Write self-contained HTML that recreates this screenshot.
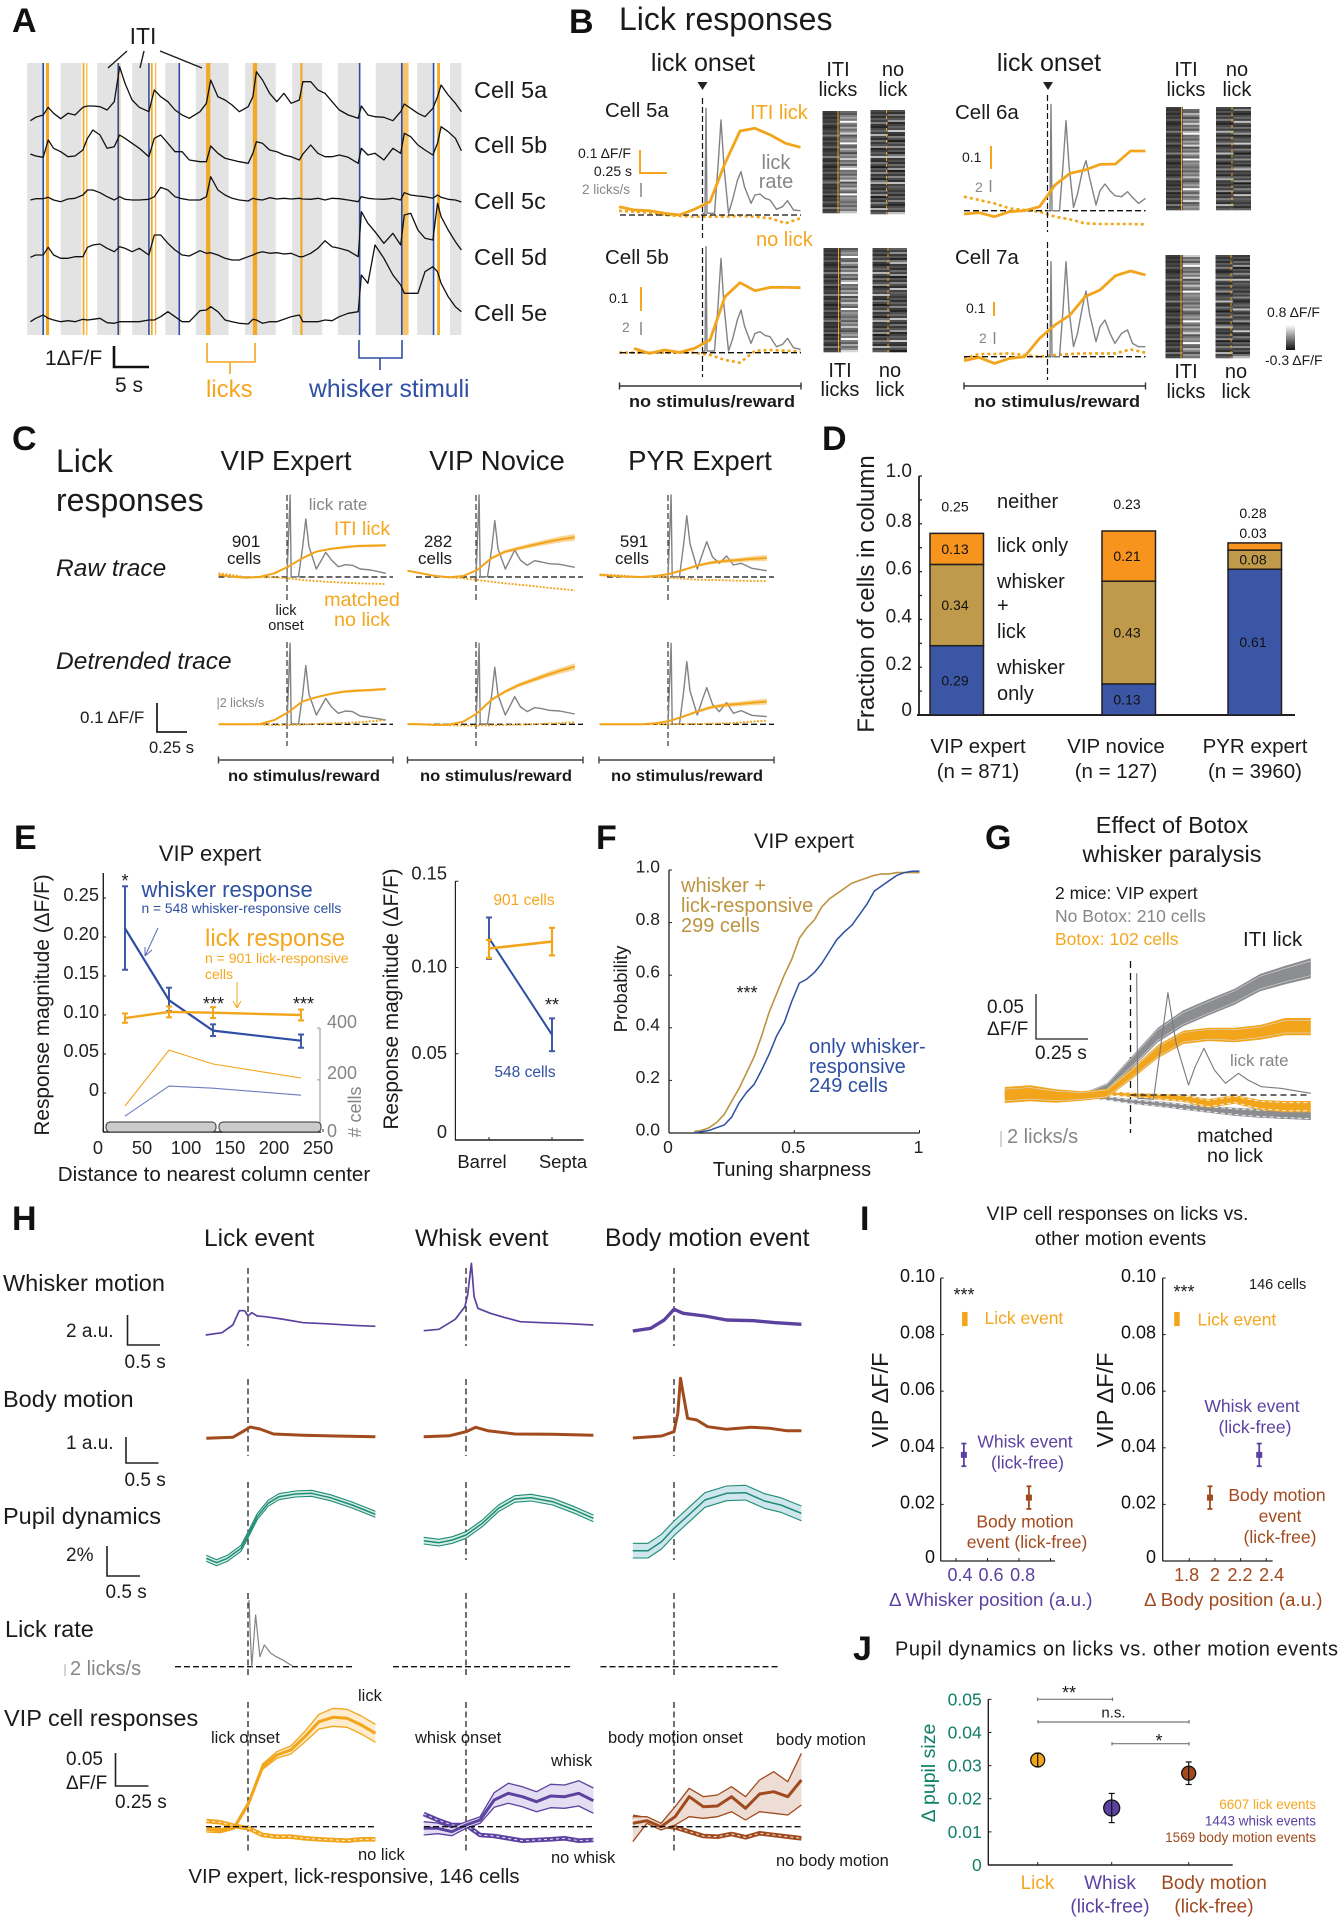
<!DOCTYPE html>
<html lang="en">
<head>
<meta charset="utf-8">
<title>Lick responses figure</title>
<style>
html,body{margin:0;padding:0;background:#fff;}
svg{display:block;font-family:"Liberation Sans",Arial,sans-serif;fill:#1c1a1b;}
.m{text-anchor:middle}.e{text-anchor:end}.b{font-weight:bold}.i{font-style:italic}
.o{fill:#f5a61e}.bl{fill:#2e4fa2}.g{fill:#858688}.t{fill:#bd9340}.p{fill:#5b42a0}.r{fill:#a04a1e}.te{fill:#107f68}
.pl{font-weight:bold;font-size:34px;fill:#111}
</style>
</head>
<body>
<svg id="figure" xmlns="http://www.w3.org/2000/svg" width="1342" height="1920" viewBox="0 0 1342 1920">
<rect x="0" y="0" width="1342" height="1920" fill="#fff"/>

<g>
<g id="a-marks"></g>
<text class="pl" x="12" y="32">A</text>
<text class="m" x="143" y="44" font-size="23">ITI</text>
<path d="M108 68L127 51M140 68L144 51M160 51L202 68" fill="none" stroke="#1c1a1b" stroke-width="1.4"/>
<text x="474" y="98" font-size="23.5">Cell 5a</text>
<text x="474" y="153" font-size="23.5">Cell 5b</text>
<text x="474" y="209" font-size="23.5">Cell 5c</text>
<text x="474" y="265" font-size="23.5">Cell 5d</text>
<text x="474" y="321" font-size="23.5">Cell 5e</text>
<text x="45" y="365" font-size="21">1ΔF/F</text>
<path d="M114 346V367H149" fill="none" stroke="#111" stroke-width="2.6"/>
<text x="115" y="392" font-size="21">5 s</text>
<path d="M207 343V362H255V343M230 362V374" fill="none" stroke="#f5a61e" stroke-width="1.6"/>
<text class="o" x="206" y="397" font-size="24">licks</text>
<path d="M359 340V358H402V340M380 358V370" fill="none" stroke="#2e4fa2" stroke-width="1.6"/>
<text class="bl" x="309" y="397" font-size="24.7">whisker stimuli</text>
</g>

<g>
<g id="b-marks"></g>
<text class="pl" x="569" y="33">B</text>
<text x="619" y="30" font-size="32">Lick responses</text>
<text class="m" x="703" y="71" font-size="25">lick onset</text>
<text class="m" x="1049" y="71" font-size="25">lick onset</text>
<path d="M697.5 82H707.5L702.5 90Z" fill="#222"/>
<path d="M1043 82H1053L1048 90Z" fill="#222"/>
<text class="m" x="838" y="76" font-size="20">ITI</text>
<text class="m" x="838" y="96" font-size="20">licks</text>
<text class="m" x="893" y="76" font-size="20">no</text>
<text class="m" x="893" y="96" font-size="20">lick</text>
<text class="m" x="1186" y="76" font-size="20">ITI</text>
<text class="m" x="1186" y="96" font-size="20">licks</text>
<text class="m" x="1237" y="76" font-size="20">no</text>
<text class="m" x="1237" y="96" font-size="20">lick</text>
<text class="m" x="840" y="377" font-size="20">ITI</text>
<text class="m" x="840" y="396" font-size="20">licks</text>
<text class="m" x="890" y="377" font-size="20">no</text>
<text class="m" x="890" y="396" font-size="20">lick</text>
<text class="m" x="1186" y="378" font-size="20">ITI</text>
<text class="m" x="1186" y="398" font-size="20">licks</text>
<text class="m" x="1236" y="378" font-size="20">no</text>
<text class="m" x="1236" y="398" font-size="20">lick</text>
<text x="605" y="117" font-size="20.5">Cell 5a</text>
<text x="605" y="264" font-size="20.5">Cell 5b</text>
<text x="955" y="119" font-size="20.5">Cell 6a</text>
<text x="955" y="264" font-size="20.5">Cell 7a</text>
<text class="o" x="750" y="119" font-size="20">ITI lick</text>
<text class="g m" x="776" y="169" font-size="20">lick</text>
<text class="g m" x="776" y="188" font-size="20">rate</text>
<text class="o" x="756" y="246" font-size="20">no lick</text>
<text x="578" y="158" font-size="14">0.1 ΔF/F</text>
<text class="e" x="632" y="176" font-size="14">0.25 s</text>
<text class="g" x="582" y="194" font-size="13.5">2 licks/s</text>
<path d="M640 150V173H667" fill="none" stroke="#f5a61e" stroke-width="2"/>
<path d="M641 183V197" stroke="#858688" stroke-width="1.5"/>
<text x="609" y="303" font-size="14">0.1</text>
<text class="g" x="622" y="332" font-size="14">2</text>
<path d="M641 287V311" stroke="#f5a61e" stroke-width="2"/>
<path d="M641 322V335" stroke="#858688" stroke-width="1.5"/>
<text x="962" y="162" font-size="14">0.1</text>
<text class="g" x="975" y="192" font-size="14">2</text>
<path d="M991 146V169" stroke="#f5a61e" stroke-width="2"/>
<path d="M990.5 180V192" stroke="#858688" stroke-width="1.5"/>
<text x="966" y="313" font-size="14">0.1</text>
<text class="g" x="979" y="343" font-size="14">2</text>
<path d="M994 302V316" stroke="#f5a61e" stroke-width="2"/>
<path d="M994.5 332V344" stroke="#858688" stroke-width="1.5"/>
<path d="M619.5 382.5V389.5M619.5 386H801M801 382.5V389.5M964 382.5V389.5M964 386H1145.5M1145.5 382.5V389.5" fill="none" stroke="#333" stroke-width="1.4"/>
<text class="b m" x="712" y="407" font-size="16.5" textLength="166" lengthAdjust="spacingAndGlyphs">no stimulus/reward</text>
<text class="b m" x="1057" y="407" font-size="16.5" textLength="166" lengthAdjust="spacingAndGlyphs">no stimulus/reward</text>
<defs><linearGradient id="cbar" x1="0" y1="0" x2="0" y2="1"><stop offset="0" stop-color="#fff"/><stop offset="1" stop-color="#111"/></linearGradient></defs>
<rect x="1286" y="325" width="9" height="25" fill="url(#cbar)"/>
<text x="1267" y="317" font-size="14">0.8 ΔF/F</text>
<text x="1265" y="365" font-size="14">-0.3 ΔF/F</text>
</g>

<g>
<g id="c-marks"></g>
<text class="pl" x="12" y="450">C</text>
<text x="56" y="472" font-size="32">Lick</text>
<text x="56" y="511" font-size="32">responses</text>
<text class="m" x="286" y="470" font-size="27.5">VIP Expert</text>
<text class="m" x="497" y="470" font-size="27.5">VIP Novice</text>
<text class="m" x="700" y="470" font-size="27.5">PYR Expert</text>
<text class="i" x="56" y="576" font-size="24.5">Raw trace</text>
<text class="i" x="56" y="669" font-size="24.5">Detrended trace</text>
<text class="m" x="246" y="547" font-size="17">901</text>
<text class="m" x="244" y="564" font-size="17">cells</text>
<text class="m" x="438" y="547" font-size="17">282</text>
<text class="m" x="435" y="564" font-size="17">cells</text>
<text class="m" x="634" y="547" font-size="17">591</text>
<text class="m" x="632" y="564" font-size="17">cells</text>
<text class="g m" x="338" y="510" font-size="17">lick rate</text>
<text class="o m" x="362" y="535" font-size="19.5">ITI lick</text>
<text class="o m" x="362" y="606" font-size="19.8">matched</text>
<text class="o m" x="362" y="626" font-size="19.8">no lick</text>
<text class="m" x="286" y="615" font-size="14.5">lick</text>
<text class="m" x="286" y="630" font-size="14.5">onset</text>
<text class="g" x="216.500" y="707" font-size="12.5">|2 licks/s</text>
<text x="80" y="723" font-size="17">0.1 ΔF/F</text>
<path d="M157 703V732H187" fill="none" stroke="#222" stroke-width="1.8"/>
<text x="149" y="753" font-size="16.5">0.25 s</text>
<path d="M218.500 756.500V763.500M218.500 760H393M393 756.500V763.500M407.500 756.500V763.500M407.500 760H583M583 756.500V763.500M599 756.500V763.500M599 760H774M774 756.500V763.500" fill="none" stroke="#444" stroke-width="1.4"/>
<text class="b m" x="304" y="781" font-size="16" textLength="152" lengthAdjust="spacingAndGlyphs">no stimulus/reward</text>
<text class="b m" x="496" y="781" font-size="16" textLength="152" lengthAdjust="spacingAndGlyphs">no stimulus/reward</text>
<text class="b m" x="687" y="781" font-size="16" textLength="152" lengthAdjust="spacingAndGlyphs">no stimulus/reward</text>
</g>

<g>
<g id="d-marks"></g>
<text class="pl" x="822" y="450">D</text>
<text class="m" x="874" y="594" font-size="24" transform="rotate(-90 874 594)">Fraction of cells in column</text>
<text x="997" y="508" font-size="20">neither</text>
<text x="997" y="552" font-size="20">lick only</text>
<text x="997" y="588" font-size="20">whisker</text>
<text x="997" y="612" font-size="20">+</text>
<text x="997" y="638" font-size="20">lick</text>
<text x="997" y="674" font-size="20">whisker</text>
<text x="997" y="700" font-size="20">only</text>
<text class="m" x="978" y="753" font-size="20.500">VIP expert</text>
<text class="m" x="978" y="778" font-size="20.500">(n = 871)</text>
<text class="m" x="1116" y="753" font-size="20.500">VIP novice</text>
<text class="m" x="1116" y="778" font-size="20.500">(n = 127)</text>
<text class="m" x="1255" y="753" font-size="20.500">PYR expert</text>
<text class="m" x="1255" y="778" font-size="20.500">(n = 3960)</text>
</g>

<g>
<g id="e-marks"></g>
<text class="pl" x="14" y="849">E</text>
<text class="m" x="210" y="861" font-size="22">VIP expert</text>
<text class="m" x="49" y="1005" font-size="20.800" transform="rotate(-90 49 1005)">Response magnitude (ΔF/F)</text>
<text class="m" x="214" y="1181" font-size="20.600">Distance to nearest column center</text>
<text class="bl" x="141.500" y="897" font-size="22">whisker response</text>
<text class="bl" x="141.500" y="913" font-size="13.800">n = 548 whisker-responsive cells</text>
<text class="o" x="205" y="946" font-size="24">lick response</text>
<text class="o" x="205" y="963" font-size="14">n = 901 lick-responsive</text>
<text class="o" x="205" y="979" font-size="14">cells</text>
<path d="M158 928L145 956M145 956L145 947M145 956L152 950" fill="none" stroke="#5b6db5" stroke-width="1"/>
<path d="M237 982V1008M237 1008L233 1001M237 1008L241 1001" fill="none" stroke="#f5a61e" stroke-width="1"/>
<text class="m" x="125" y="887" font-size="18">*</text>
<text class="m" x="213.500" y="1010" font-size="18">***</text>
<text class="m" x="303.500" y="1010" font-size="18">***</text>
<text class="g" x="327" y="1028" font-size="18">400</text>
<text class="g" x="327" y="1079" font-size="18">200</text>
<text class="g" x="327" y="1137" font-size="18">0</text>
<text class="g m" x="361" y="1112" font-size="18" transform="rotate(-90 361 1112)"># cells</text>
<text class="m" x="398" y="999" font-size="20.800" transform="rotate(-90 398 999)">Response magnitude (ΔF/F)</text>
<text class="o m" x="524" y="905" font-size="15.500">901 cells</text>
<text class="bl m" x="525" y="1077" font-size="15.500">548 cells</text>
<text class="m" x="552" y="1011" font-size="18">**</text>
<text class="m" x="482" y="1168" font-size="18.500">Barrel</text>
<text class="m" x="563" y="1168" font-size="18.500">Septa</text>
</g>

<g>
<g id="f-marks"></g>
<text class="pl" x="596" y="849">F</text>
<text class="m" x="804" y="848" font-size="21.500">VIP expert</text>
<text class="m" x="627" y="989" font-size="18.600" transform="rotate(-90 627 989)">Probability</text>
<text class="m" x="792" y="1176" font-size="20">Tuning sharpness</text>
<text class="t" x="681" y="892" font-size="20">whisker +</text>
<text class="t" x="681" y="912" font-size="20">lick-responsive</text>
<text class="t" x="681" y="932" font-size="20">299 cells</text>
<text class="bl" x="809" y="1053" font-size="20">only whisker-</text>
<text class="bl" x="809" y="1073" font-size="20">responsive</text>
<text class="bl" x="809" y="1092" font-size="20">249 cells</text>
<text class="m" x="747" y="999" font-size="18">***</text>
</g>

<g>
<g id="g-marks"></g>
<text class="pl" x="985" y="849">G</text>
<text class="m" x="1172" y="833" font-size="23.500">Effect of Botox</text>
<text class="m" x="1172" y="862" font-size="23.500">whisker paralysis</text>
<text x="1055" y="899" font-size="17.500">2 mice: VIP expert</text>
<text class="g" x="1055" y="922" font-size="17.500">No Botox: 210 cells</text>
<text class="o" x="1055" y="945" font-size="17.500">Botox: 102 cells</text>
<text x="1243" y="946" font-size="20.500">ITI lick</text>
<text x="987" y="1013" font-size="19">0.05</text>
<text x="987" y="1035" font-size="19">ΔF/F</text>
<path d="M1036 994V1039H1088" fill="none" stroke="#222" stroke-width="1.3"/>
<text x="1035" y="1059" font-size="19">0.25 s</text>
<text class="g" x="1230" y="1066" font-size="17">lick rate</text>
<path d="M1001 1131V1147" stroke="#aaa" stroke-width="1"/>
<text class="g" x="1007" y="1143" font-size="20">2 licks/s</text>
<text class="m" x="1235" y="1142" font-size="19.800">matched</text>
<text class="m" x="1235" y="1162" font-size="19.800">no lick</text>
</g>

<g>
<g id="h-marks"></g>
<text class="pl" x="12" y="1230">H</text>
<text x="204" y="1246" font-size="24.500">Lick event</text>
<text x="415" y="1246" font-size="24.500">Whisk event</text>
<text x="605" y="1246" font-size="24.700">Body motion event</text>
<text x="3" y="1291" font-size="23.500">Whisker motion</text>
<text x="3" y="1407" font-size="23.500">Body motion</text>
<text x="3" y="1524" font-size="23.500">Pupil dynamics</text>
<text x="5" y="1637" font-size="23.500">Lick rate</text>
<text x="4" y="1726" font-size="23.500">VIP cell responses</text>
<text x="66" y="1337" font-size="19">2 a.u.</text>
<path d="M127.500 1315V1345H160" fill="none" stroke="#222" stroke-width="1.6"/>
<text x="124.500" y="1368" font-size="19">0.5 s</text>
<text x="66" y="1449" font-size="19">1 a.u.</text>
<path d="M126 1437V1463H158.500" fill="none" stroke="#222" stroke-width="1.6"/>
<text x="124.500" y="1486" font-size="19">0.5 s</text>
<text x="66" y="1561" font-size="19">2%</text>
<path d="M107 1546V1576H140" fill="none" stroke="#222" stroke-width="1.6"/>
<text x="105.500" y="1598" font-size="19">0.5 s</text>
<path d="M65 1664V1676" stroke="#aaa" stroke-width="1"/>
<text class="g" x="70" y="1675" font-size="20">2 licks/s</text>
<text x="66" y="1765" font-size="19">0.05</text>
<text x="66" y="1789" font-size="19">ΔF/F</text>
<path d="M115.500 1753V1786H148.500" fill="none" stroke="#222" stroke-width="1.6"/>
<text x="115" y="1808" font-size="19">0.25 s</text>
<text x="358" y="1701" font-size="16.500">lick</text>
<text x="211" y="1743" font-size="16.500">lick onset</text>
<text x="415" y="1743" font-size="16.500">whisk onset</text>
<text x="608" y="1743" font-size="16.500">body motion onset</text>
<text x="551" y="1766" font-size="16.500">whisk</text>
<text x="776" y="1745" font-size="16.500">body motion</text>
<text x="358" y="1860" font-size="16.500">no lick</text>
<text x="551" y="1863" font-size="16.500">no whisk</text>
<text x="776" y="1866" font-size="16.500">no body motion</text>
<text x="188.500" y="1883" font-size="20.300">VIP expert, lick-responsive, 146 cells</text>
</g>

<g>
<g id="i-marks"></g>
<text class="pl" x="860" y="1230">I</text>
<text class="m" x="1117.500" y="1220" font-size="19.500">VIP cell responses on licks vs.</text>
<text class="m" x="1120.500" y="1245" font-size="19.500">other motion events</text>
<text class="m" x="888" y="1400" font-size="23.500" transform="rotate(-90 888 1400)">VIP ΔF/F</text>
<text class="m" x="1113" y="1400" font-size="23.500" transform="rotate(-90 1113 1400)">VIP ΔF/F</text>
<text class="m" x="964" y="1301" font-size="18">***</text>
<text class="m" x="1184" y="1298" font-size="18">***</text>
<text x="1249" y="1289" font-size="14.500">146 cells</text>
<text class="o" x="984.500" y="1324" font-size="17.500">Lick event</text>
<text class="p m" x="1025" y="1447.500" font-size="17.500">Whisk event</text>
<text class="p m" x="1027.500" y="1468.500" font-size="17.500">(lick-free)</text>
<text class="r m" x="1025" y="1527.500" font-size="17.500">Body motion</text>
<text class="r m" x="1027" y="1548" font-size="17.500">event (lick-free)</text>
<text class="o" x="1197.500" y="1325.500" font-size="17.500">Lick event</text>
<text class="p m" x="1252" y="1412" font-size="17.500">Whisk event</text>
<text class="p m" x="1255" y="1433" font-size="17.500">(lick-free)</text>
<text class="r m" x="1277" y="1501" font-size="17.500">Body motion</text>
<text class="r m" x="1280" y="1522" font-size="17.500">event</text>
<text class="r m" x="1280" y="1543" font-size="17.500">(lick-free)</text>
<text class="p" x="889" y="1606" font-size="18.800">Δ Whisker position (a.u.)</text>
<text class="r" x="1144" y="1606" font-size="18.800">Δ Body position (a.u.)</text>
</g>

<g>
<g id="j-marks"></g>
<text class="pl" x="853" y="1660">J</text>
<text x="895" y="1655.500" font-size="20" textLength="443" lengthAdjust="spacing">Pupil dynamics on licks vs. other motion events</text>
<text class="te m" x="935" y="1773" font-size="19.500" transform="rotate(-90 935 1773)">Δ pupil size</text>
<path d="M1037.500 1697.500V1701M1037.500 1699.300H1112.500M1112.500 1697.500V1701M1038 1720V1723.500M1038 1722H1189M1189 1720V1723.500M1112 1742V1745.500M1112 1743.700H1189M1189 1742V1745.500" fill="none" stroke="#777" stroke-width="1.2"/>
<text class="m" x="1069" y="1699" font-size="18">**</text>
<text class="m" x="1113.500" y="1717.500" font-size="15">n.s.</text>
<text class="m" x="1159" y="1747" font-size="18">*</text>
<text class="o e" x="1316" y="1809" font-size="13.500">6607 lick events</text>
<text class="p e" x="1316" y="1825.500" font-size="13.500">1443 whisk events</text>
<text class="r e" x="1316" y="1842" font-size="13.500">1569 body motion events</text>
<text class="o m" x="1037.500" y="1889" font-size="19">Lick</text>
<text class="p m" x="1110" y="1889" font-size="19">Whisk</text>
<text class="p m" x="1110" y="1912.500" font-size="19">(lick-free)</text>
<text class="r m" x="1214" y="1889" font-size="19">Body motion</text>
<text class="r m" x="1214" y="1912.500" font-size="19">(lick-free)</text>
</g>
</svg>

<script>
/* ---------- Panel A data (frames; response units, 60 = 1 dF/F) ---------- */
const aFrames=[85,100,121,135,150,170,190,210,232,245,260,280,300,320,335,350,370,390,417,432,450,470,490,510,530,560,578,590,610,630,650,670,695,708,718,735,755,775,795,815,838,848,870,890,910,930,950,975,1003,1012,1030,1050,1075,1100,1122,1132,1150,1170,1190,1212,1225,1235,1255,1275,1292];
const aCell5a=[-2,8,15,38,20,4,20,15,38,42,42,40,30,55,160,110,60,38,25,90,70,55,30,15,5,25,50,120,70,60,45,25,40,70,145,120,80,55,80,50,60,115,115,90,80,55,30,15,5,42,15,10,8,-2,25,48,35,20,10,35,70,105,75,50,25];
const aCell5b=[8,2,-2,50,25,15,0,2,20,55,80,65,25,30,65,55,40,25,0,55,65,40,15,15,-10,-15,-15,32,10,-5,-10,-15,-20,10,45,40,20,15,5,0,-10,8,35,10,0,0,5,-2,-20,25,5,10,-10,25,10,70,60,35,20,5,40,90,75,55,18];
const aCell5c=[0,4,4,8,0,-5,3,5,15,30,30,22,10,0,10,2,0,0,2,10,38,30,10,4,0,0,10,70,30,15,5,0,-3,5,2,0,7,3,5,3,5,3,2,5,0,5,4,0,-5,10,5,3,2,5,0,22,15,12,10,5,15,8,2,0,-6];
const aCell5d=[-2,5,5,28,5,-5,-5,0,0,28,35,38,25,15,30,25,15,25,5,65,65,40,20,5,2,18,10,12,5,-5,-10,-10,0,5,10,15,10,12,8,10,0,0,10,25,48,30,25,18,0,135,100,75,40,70,35,125,130,80,55,50,160,120,80,45,20];
const aCell5e=[-5,5,15,5,0,-5,-2,-5,2,0,2,5,-8,-10,-5,-5,-5,-5,0,0,10,25,10,-5,-5,28,30,40,25,0,-5,-10,-12,2,0,-10,-5,-5,2,10,15,-5,-5,-5,0,-2,10,20,25,135,110,225,185,135,105,80,80,80,145,160,145,110,70,40,25];
const aBandStart=[76,170,272,370,463,548,686,818,946,1052,1168,1260];
const aBandEnd=[124,228,335,415,503,640,772,902,1007,1125,1215,1292];
const aWhiskerEvents=[121,331,417,502,1007,1125,1214];
const aLickEvents=[133,234,243,336,425,436,583,714,844,1135,1228];
const aLickDurations=[9,5,3,2,5,3,12,12,6,18,8];

/* ---------- Panel B data ---------- */
const bFrames=[-167,-137,-106,-76,-46,-16,15,45,75,105,136,166,196];
const b5aIti=[25,15,13,5,0,17,40,155,252,260,240,215,203];
const b5aNo=[13,10,7,0,-3,-5,-5,-5,-3,-5,-10,-25,-10];
const b5bIti=[13,-2,8,1,13,38,168,210,186,196,196,195];
const b5bNo=[0,0,0,0,0,0,-7,-22,-30,6,8,6,3];
const b6aIti=[-10,-6,-18,-3,0,12,77,112,122,139,140,179,179];
const b6aNo=[42,32,22,7,2,-3,-18,-26,-38,-40,-40,-40,-41];
const b7aIti=[-12,-2,-20,-5,0,55,95,125,180,200,243,257,245];
const b7aNo=[-5,8,8,10,5,0,5,8,10,10,10,22,12];
const bLickFrames=[0,5,7,9,24,31,37,43,52,60,70,77,84,97,105,115,125,135,148,160,170,182,196];
const b5aLick=[5,5,320,5,5,145,285,145,5,45,105,130,85,35,60,63,50,45,17,25,43,15,13];
const b5bLick=[5,5,318,5,5,140,283,140,5,40,100,128,80,28,58,63,52,48,18,25,43,15,10];
const b6aLick=[0,0,319,0,0,135,270,135,10,50,120,150,100,17,60,80,60,45,42,57,40,22,37];
const b7aLick=[0,0,285,0,0,140,285,140,30,70,150,197,130,45,90,110,70,40,70,80,40,30,30];
const bRasterLevels=[.3,.2,.35,.15,.4,.25,.6,.2,.1,.3,.45,.25,.9,.3,.15,.5,.2,.35,.7,.1,.25,.4,.3,.95,.2,.15,.55,.3,.05,.4,.25,.65,.2,.35,.1,.5,.85,.2,.3,.15,.45,.25,.7,.05,.35,.2,.6,.3,.15,.9,.25,.4];

/* ---------- Panel C data ---------- */
const cFrames=[-131,-104.3,-77.7,-51,-24.3,2.3,29,55.7,82.3,109,135.7,162.3,189];
const cLickFrames=[0,6,8,22,30,36,42,56,66,74,85,98,112,125,140,160,189];
const cRawVEIti=[6,1,-2,1,11,31,56,76,84,89,93,94,95];
const cRawVENo=[11,6,-1,-1,-1,-4,-9,-12,-15,-17,-19,-20,-21];
const cRawVNIti=[19,11,3,-1,3,21,56,76,86,96,105,113,119];
const cRawVNNo=[19,11,3,-1,-4,-9,-14,-19,-23,-27,-32,-36,-40];
const cRawPEIti=[6,3,1,0,3,9,21,34,43,48,51,55,57];
const cRawPENo=[8,6,3,0,0,-2,-5,-8,-9,-10,-11,-12,-12];
const cRawVELick=[1,246,1,1,91,174,91,24,51,74,51,31,37,35,24,21,11];
const cRawVNLick=[1,246,1,1,85,169,85,24,55,81,50,35,49,45,40,38,29];
const cRawPELick=[1,246,1,1,100,184,100,24,70,106,60,41,63,36,41,26,19];
const cDetVEIti=[0,0,0,1,13,36,68,81,91,98,101,103,106];
const cDetVENo=[0,0,0,-1,-2,-2,-1,1,3,4,6,9,13];
const cDetVNIti=[1,0,-2,-1,8,33,73,98,118,133,148,161,173];
const cDetVNNo=[0,0,-2,-3,-4,-4,-3,-2,-1,0,2,4,6];
const cDetPEIti=[0,0,0,0,3,10,23,38,51,58,61,65,68];
const cDetPENo=[0,0,0,0,0,0,1,1,2,3,5,8,11];
const cDetVELick=[1,243,1,1,90,176,90,28,55,78,52,33,40,38,25,20,13];
const cDetVNLick=[1,243,1,1,88,171,88,28,58,83,52,38,50,47,42,40,31];
const cDetPELick=[1,243,1,1,100,188,100,28,75,110,60,38,65,33,41,27,23];
const cSemVE=[2,2,2,2,2,2,3,3,3,4,4,4,4];
const cSemVN=[2,2,2,2,2,3,4,5,6,7,8,9,10];
const cSemPE=[2,2,2,2,2,2,3,4,5,6,7,8,9];

/* ---------- Panel D data ---------- */
const dCategories=['VIP expert','VIP novice','PYR expert'];
const dWhiskerOnly=[.29,.13,.61];
const dWhiskerLick=[.34,.43,.08];
const dLickOnly=[.13,.21,.03];
const dNeither=[.25,.23,.28];
const dTickLabels=['0','0.2','0.4','0.6','0.8','1.0'];
const dTickValues=[0,.2,.4,.6,.8,1];

/* ---------- Panel E data ---------- */
const eDistances=[25,75,125,225];
const eWhisker=[.211,.119,.08,.067];
const eWhiskerHi=[.265,.135,.088,.075];
const eWhiskerLo=[.158,.105,.073,.058];
const eLick=[.096,.104,.103,.1];
const eLickErr=[.006,.007,.007,.007];
const eLickCells=[99,315,261,207];
const eWhiskerCells=[60,176,168,141];
const eYTicks=[0,.05,.1,.15,.2,.25];
const eYLabels=['0','0.05','0.10','0.15','0.20','0.25'];
const eXTicks=[0,50,100,150,200,250];
const eRYTicks=[0,.05,.1,.15];
const eRYLabels=['0','0.05','0.10','0.15'];
const eRLick=[.111,.115];
const eRLickHi=[.116,.123];
const eRLickLo=[.1055,.107];
const eRWhisker=[.117,.061];
const eRWhiskerHi=[.129,.0705];
const eRWhiskerLo=[.105,.0515];

/* ---------- Panel F data ---------- */
const fSharpness=[.1,.13,.16,.19,.22,.25,.28,.31,.34,.37,.4,.43,.46,.49,.52,.55,.58,.61,.64,.67,.7,.73,.76,.79,.82,.85,.88,.91,.94,.97,1];
const fBoth=[.005,.01,.02,.04,.07,.12,.17,.23,.29,.37,.46,.53,.6,.66,.74,.78,.81,.86,.89,.91,.93,.95,.96,.97,.98,.985,.985,.99,.99,.99,.99];
const fWhiskerOnly=[0,.005,.01,.02,.03,.06,.115,.155,.185,.24,.3,.37,.42,.5,.57,.585,.61,.645,.69,.735,.765,.79,.83,.87,.92,.94,.96,.98,.99,.995,.996];
const fYTicks=[0,.2,.4,.6,.8,1];
const fYLabels=['0.0','0.2','0.4','0.6','0.8','1.0'];
const fXTicks=[0,.5,1];
const fXLabels=['0','0.5','1'];

/* ---------- Panel G data ---------- */
const gFrames=[-262,-209,-156,-102,-49,4,57,110,163,217,270,323,376];
const gNoBotoxIti=[10,5,0,-3,25,100,180,230,263,295,337,360,380];
const gNoBotoxItiSem=[12,10,8,6,10,18,22,24,24,24,26,28,30];
const gBotoxIti=[0,5,-3,-3,5,65,130,173,182,180,188,205,205];
const gBotoxItiSem=[24,24,20,14,14,16,20,20,20,22,22,26,26];
const gNoBotoxNo=[5,3,0,-3,-10,-20,-27,-35,-43,-50,-55,-58,-60];
const gNoBotoxNoSem=[6,6,6,4,6,7,8,9,10,12,13,14,15];
const gBotoxNo=[0,15,5,-3,5,0,-5,-10,-25,-13,-30,-35,-35];
const gBotoxNoSem=[8,10,10,6,6,7,9,11,13,13,15,17,17];
const gLickFrames=[13,15,48,60,78,95,121,135,153,175,198,225,245,273,313,376];
const gLickRate=[380,5,2,130,322,170,45,100,155,90,50,80,60,40,35,20];

/* ---------- Panel H data ---------- */
const hWhiskLickT=[-78,-48,-28,-16,-6,0,7,17,32,62,102,142,192,235];
const hWhiskLickV=[-5,2,25,68,68,52,62,52,50,43,32,29,24,21];
const hWhiskWhiskT=[-78,-50,-20,-2,3,10,15,22,45,70,100,140,190,235];
const hWhiskWhiskV=[8,12,42,80,115,210,110,75,60,48,35,32,29,25];
const hWhiskBodyT=[-76,-43,-18,0,17,57,97,147,187,235];
const hWhiskBodyV=[7,15,40,72,60,52,40,38,32,27];
const hBodyLickT=[-77,-28,-10,4,22,47,102,162,235];
const hBodyLickV=[5,8,25,39,33,18,14,12,10];
const hBodyWhiskT=[-78,-30,0,18,40,90,160,235];
const hBodyWhiskV=[10,13,25,38,28,18,17,14];
const hBodyBodyT=[-76,-23,0,7,12,19,25,42,62,97,142,177,207,235];
const hBodyBodyV=[6,12,25,80,185,120,65,60,40,32,38,35,28,28];
const hPupilLickT=[-77,-58,-38,-13,0,17,37,57,87,117,152,192,235];
const hPupilLickV=[25,12,25,55,95,150,190,210,218,220,207,185,157];
const hPupilWhiskT=[-78,-50,-25,0,30,60,90,120,160,200,235];
const hPupilWhiskV=[78,72,80,95,130,175,203,207,195,170,145];
const hPupilBodyT=[-76,-48,-23,0,27,57,97,132,167,197,235];
const hPupilBodyV=[48,48,75,115,155,200,220,222,197,185,160];
const hLickRateT=[2,4,7,14,22,30,42,52,62,82];
const hLickRateV=[200,100,0,155,30,65,40,30,22,2];
const hVipLickT=[-77,-51,-25,1,27,53,79,105,131,157,183,209,235];
const hVipLick=[-8,-12,-2,70,180,215,230,270,315,328,325,305,280];
const hVipLickSem=[8,6,5,6,8,10,12,16,22,27,27,27,27];
const hVipNoLick=[17,13,2,-5,-25,-30,-30,-35,-38,-40,-42,-38,-38];
const hVipWhiskT=[-78,-52,-26,0,26,52,78,104,130,156,182,208,235];
const hVipWhisk=[-5,-5,-15,5,20,80,100,90,75,92,90,100,78];
const hVipWhiskSem=[20,16,12,10,10,22,30,30,30,35,35,38,38];
const hVipNoWhisk=[38,20,5,5,-25,-28,-35,-42,-40,-38,-35,-42,-40];
const hVipBodyT=[-76,-50,-24,2,28,54,80,106,132,158,184,210,235];
const hVipBody=[10,18,0,30,90,60,62,90,55,98,105,90,140];
const hVipBodyHi=[30,30,10,60,115,90,95,120,90,140,165,135,220];
const hVipBodyLo=[-45,10,-10,5,30,25,30,45,20,45,40,35,65];
const hVipNoBody=[30,22,2,-2,-15,-28,-30,-22,-32,-20,-25,-30,-35];

/* ---------- Panel I data ---------- */
const iYTicks=[0,.02,.04,.06,.08,.1];
const iYLabels=['0','0.02','0.04','0.06','0.08','0.10'];
const iWhiskerTicks=[.4,.6,.8,1];
const iWhiskerLabels=['0.4','0.6','0.8'];
const iBodyTicks=[1.8,2,2.2,2.4];
const iBodyLabels=['1.8','2','2.2','2.4'];
const iVip=[.0855,.0375,.0224];
const iVipErr=[.0025,.004,.004];
const iWhiskerPos=[.456,.45,.863];
const iBodyPos=[1.704,2.345,1.961];

/* ---------- Panel J data ---------- */
const jCategories=['Lick','Whisk','Body motion'];
const jPupil=[.0317,.0172,.0277];
const jPupilErr=[.002,.0044,.0034];
const jYTicks=[0,.01,.02,.03,.04,.05];
const jYLabels=['0','0.01','0.02','0.03','0.04','0.05'];

/* ---------- Colours ---------- */
const ORANGE='#f2a51a',BLUE='#2d4ea2',GRAY='#808285',TAN='#bd9340',PURPLE='#5b42a0',BROWN='#a04a1e',TEAL='#1e8c73',DARK='#231f20';

/* ---------- Helpers ---------- */
const NS='http://www.w3.org/2000/svg';
function add(parent,tag,attrs,name,text){
  const el=document.createElementNS(NS,tag);
  for(const k in attrs)el.setAttribute(k,attrs[k]);
  
  
  if(text!==undefined)el.textContent=text;
  parent.appendChild(el);
  return el;
}
function pts(ts,vs,xf,yf){
  const out=[];const n=Math.min(ts.length,vs.length);
  for(let i=0;i<n;i++)out.push(xf(ts[i]).toFixed(1)+','+yf(vs[i]).toFixed(1));
  return out.join(' ');
}
function curve(g,ts,vs,xf,yf,stroke,w,name,extra){
  const a=Object.assign({points:pts(ts,vs,xf,yf),fill:'none',stroke:stroke,'stroke-width':w,'stroke-linejoin':'round'},extra||{});
  return add(g,'polyline',a,name);
}
function band(g,ts,hi,lo,xf,yf,fill,name,op){
  const up=pts(ts,hi,xf,yf);
  const dn=pts(ts.slice().reverse(),lo.slice().reverse(),xf,yf);
  return add(g,'polygon',{points:up+' '+dn,fill:fill,opacity:op===undefined?1:op},name);
}
function seg(g,x1,y1,x2,y2,stroke,w,name,dash){
  const a={x1:x1,y1:y1,x2:x2,y2:y2,stroke:stroke,'stroke-width':w};
  if(dash)a['stroke-dasharray']=dash;
  return add(g,'line',a,name);
}
function errbar(g,x,yHi,yLo,color,w,cap,name){
  seg(g,x,yHi,x,yLo,color,w,name);
  seg(g,x-cap,yHi,x+cap,yHi,color,w,name+'-cap-high');
  seg(g,x-cap,yLo,x+cap,yLo,color,w,name+'-cap-low');
}
function label(g,x,y,txt,size,anchor,fill,name){
  return add(g,'text',{x:x,y:y,'font-size':size,'text-anchor':anchor,fill:fill||'#1c1a1b'},name,txt);
}
function plus(vs,es){return vs.map((v,i)=>v+es[i]);}
function minus(vs,es){return vs.map((v,i)=>v-es[i]);}

/* ---------- Panel A ---------- */
(function(){
  const g=document.getElementById('a-marks');
  const xA=f=>f/2.8;
  const yTop=63,yBot=335;
  aBandStart.forEach((s,i)=>{
    add(g,'rect',{x:xA(s),y:yTop,width:xA(aBandEnd[i])-xA(s),height:yBot-yTop,fill:'#e3e3e3'},'iti-band');
  });
  aLickEvents.forEach((f,i)=>{
    add(g,'rect',{x:xA(f)-aLickDurations[i]/5.6,y:yTop,width:aLickDurations[i]/2.8,height:yBot-yTop,fill:ORANGE,opacity:aLickDurations[i]>14?.65:.95},'lick-event');
  });
  aWhiskerEvents.forEach(f=>{
    seg(g,xA(f),yTop,xA(f),yBot,BLUE,1.6,'whisker-event');
  });
  const cells=[[aCell5a,360,'cell-5a-trace'],[aCell5b,470,'cell-5b-trace'],[aCell5c,600,'cell-5c-trace'],[aCell5d,770,'cell-5d-trace'],[aCell5e,960,'cell-5e-trace']];
  cells.forEach(c=>{
    const base=c[1];
    curve(g,aFrames,c[0],xA,v=>(base-v)/3,'#111',1.3,c[2]);
  });
})();

/* ---------- Panel B ---------- */
(function(){
  const g=document.getElementById('b-marks');
  function raster(x,y,w,h,lineX,bright,solid,offset,nm){
    const n=bRasterLevels.length,rh=h/n;
    bRasterLevels.forEach((lv,i)=>{
      const lv2=bRasterLevels[(i+offset)%n];
      const a=bright?.12+.4*lv:.08+.7*lv;
      const b=bright?.25+.85*lv2:.08+.75*lv2;
      const sh=v=>{const c=Math.round(Math.min(1,v)*255);return 'rgb('+c+','+c+','+c+')';};
      add(g,'rect',{x:x,y:y+i*rh,width:w/2+.2,height:rh+.3,fill:sh(a)},nm+'-row-left');
      add(g,'rect',{x:x+w/2,y:y+i*rh,width:w/2,height:rh+.3,fill:sh(b)},nm+'-row-right');
    });
    seg(g,lineX,y,lineX,y+h,ORANGE,1,nm+'-onset',solid?null:'3 3');
  }
  raster(822.5,111,34.5,102,838,true,true,7,'raster-5a-iti');
  raster(870.5,110,34.5,104,886.5,false,false,13,'raster-5a-no');
  raster(823.5,248,34.5,104,838.5,true,true,19,'raster-5b-iti');
  raster(872.5,248,34.5,104,888,false,false,29,'raster-5b-no');
  raster(1166,107,33.5,103,1181.5,true,true,23,'raster-6a-iti');
  raster(1216,107,35,103,1232,false,false,5,'raster-6a-no');
  raster(1165.5,255,34.5,103,1181,true,true,31,'raster-7a-iti');
  raster(1215.5,255,34.5,103,1231,false,false,37,'raster-7a-no');
  const plots=[
    {on:702.5,base:215,vy1:98,vy2:238,x1:620,x2:801,iti:b5aIti,no:b5aNo,lick:b5aLick,t:bFrames,n:'5a'},
    {on:702.5,base:352.7,vy1:248,vy2:377,x1:620,x2:801,iti:b5bIti,no:b5bNo,lick:b5bLick,t:bFrames.slice(1),n:'5b'},
    {on:1047.5,base:210.7,vy1:95,vy2:232,x1:964,x2:1145.5,iti:b6aIti,no:b6aNo,lick:b6aLick,t:bFrames,n:'6a'},
    {on:1047.5,base:356.7,vy1:242,vy2:380,x1:964,x2:1145.5,iti:b7aIti,no:b7aNo,lick:b7aLick,t:bFrames,n:'7a'}
  ];
  plots.forEach(p=>{
    const xf=t=>p.on+t/2,yf=v=>p.base-v/3;
    curve(g,bFrames,p.no,xf,yf,ORANGE,2.6,'no-lick-trace-'+p.n,{'stroke-dasharray':'3 3'});
    seg(g,p.x1,p.base,p.x2,p.base,'#111',1.3,'baseline-'+p.n,'6 3');
    seg(g,p.on,p.vy1,p.on,p.vy2,'#111',1.2,'onset-line-'+p.n,'6 3');
    curve(g,bLickFrames,p.lick,xf,yf,GRAY,1.4,'lick-rate-'+p.n);
    curve(g,p.t,p.iti,xf,yf,ORANGE,2.8,'iti-lick-trace-'+p.n);
  });
})();

/* ---------- Panel C ---------- */
(function(){
  const g=document.getElementById('c-marks');
  const cols=[
    {on:287,x1:218.5,x2:393,name:'vip-expert',raw:[cRawVEIti,cRawVENo,cRawVELick],det:[cDetVEIti,cDetVENo,cDetVELick],sem:cSemVE},
    {on:476,x1:416,x2:583,name:'vip-novice',raw:[cRawVNIti,cRawVNNo,cRawVNLick],det:[cDetVNIti,cDetVNNo,cDetVNLick],sem:cSemVN},
    {on:668,x1:607,x2:774,name:'pyr-expert',raw:[cRawPEIti,cRawPENo,cRawPELick],det:[cDetPEIti,cDetPENo,cDetPELick],sem:cSemPE}
  ];
  cols.forEach(c=>{
    const xf=t=>c.on+t/1.912;
    [[c.raw,577,495,600,'raw'],[c.det,724.3,642,746,'detrended']].forEach(r=>{
      const yf=v=>r[1]-v/3;
      const tag=c.name+'-'+r[4];
      seg(g,c.x1,r[1],c.x2,r[1],'#111',1.3,tag+'-baseline','6 3');
      seg(g,c.on,r[2],c.on,r[3],'#222',1.1,tag+'-onset','6 3');
      curve(g,cLickFrames,r[0][2],xf,yf,GRAY,1.4,tag+'-lick-rate');
      curve(g,cFrames,r[0][1],xf,yf,ORANGE,1.8,tag+'-no-lick',{'stroke-dasharray':'2 1.5'});
      band(g,cFrames,plus(r[0][0],c.sem),minus(r[0][0],c.sem),xf,yf,ORANGE,tag+'-iti-sem',.45);
      curve(g,cFrames,r[0][0],xf,yf,ORANGE,2,tag+'-iti-lick');
    });
  });
})();

/* ---------- Panel D ---------- */
(function(){
  const g=document.getElementById('d-marks');
  const yD=v=>715-v*239;
  const barX=[930,1102,1228],barW=53.5;
  seg(g,919,476,919,715,DARK,1.8,'y-axis-d');
  seg(g,917,715,1295,715,DARK,2,'x-axis-d');
  for(let i=0;i<=10;i++){
    seg(g,919,yD(i/10),922,yD(i/10),DARK,1.2,'y-tick-d');
  }
  dTickValues.forEach((v,i)=>{
    label(g,912,yD(v)+(v===1?1:v===0?1:3),dTickLabels[i],19,'end','#222','y-tick-label-d');
  });
  dCategories.forEach((c,i)=>{
    const x=barX[i];
    const parts=[[dWhiskerOnly[i],'#3c56a6','whisker-only'],[dWhiskerLick[i],'#bf9a4b','whisker-lick'],[dLickOnly[i],'#f7941d','lick-only']];
    let acc=0;
    parts.forEach(p=>{
      const y1=yD(acc+p[0]),y0=yD(acc);
      add(g,'rect',{x:x,y:y1,width:barW,height:y0-y1,fill:p[1],stroke:DARK,'stroke-width':1.5},'bar-'+p[2]+'-'+i);
      if(p[0]>=.05){
        label(g,x+25,(y0+y1)/2+5,p[0].toFixed(2),14,'middle','#111','value-'+p[2]+'-'+i);
      }else{
        label(g,x+25,y1-5,p[0].toFixed(2),14,'middle','#111','value-'+p[2]+'-'+i);
      }
      acc+=p[0];
    });
    label(g,x+25,yD(acc)-(dLickOnly[i]<.05?25:22),dNeither[i].toFixed(2),14,'middle','#111','value-neither-'+i);
  });
})();

/* ---------- Panel E ---------- */
(function(){
  const g=document.getElementById('e-marks');
  const xE=d=>103+d*.88;
  const yE=v=>1093-v*780;
  const yC=n=>1131.7-n*.2592;
  seg(g,103.3,873,103.3,1132,DARK,1.4,'y-axis-e');
  seg(g,103,1132,321,1132,DARK,1.6,'x-axis-e');
  eYTicks.forEach((v,i)=>{
    seg(g,103,yE(v),106,yE(v),DARK,1,'y-tick-e');
    label(g,99,yE(v)+3,eYLabels[i],18.3,'end','#222','y-tick-label-e');
  });
  eXTicks.forEach(d=>{
    seg(g,xE(d),1132,xE(d),1129,DARK,1,'x-tick-e');
    label(g,xE(d)-5,1154,String(d),18.3,'middle','#222','x-tick-label-e');
  });
  seg(g,320,1028,320,1132,'#999',1.1,'cells-axis');
  seg(g,317,yC(400),320,yC(400),'#999',1,'cells-tick');
  seg(g,317,yC(200),320,yC(200),'#999',1,'cells-tick');
  add(g,'rect',{x:106,y:1122,width:110,height:10,rx:4,fill:'#cbcbcb',stroke:'#333','stroke-width':1},'barrel-band');
  add(g,'rect',{x:219,y:1122,width:102,height:10,rx:4,fill:'#cbcbcb',stroke:'#333','stroke-width':1},'septa-band');
  curve(g,eDistances,eLickCells,xE,yC,ORANGE,1.1,'lick-cell-count');
  curve(g,eDistances,eWhiskerCells,xE,yC,'#6b7cc0',1.1,'whisker-cell-count');
  eDistances.forEach((d,i)=>{
    errbar(g,xE(d),yE(eWhiskerHi[i]),yE(eWhiskerLo[i]),'#3f5aa9',2,3,'whisker-error-'+d);
  });
  curve(g,eDistances,eWhisker,xE,yE,BLUE,2.2,'whisker-response-line');
  eDistances.forEach((d,i)=>{
    errbar(g,xE(d),yE(eLick[i]+eLickErr[i]),yE(eLick[i]-eLickErr[i]),ORANGE,2,3,'lick-error-'+d);
  });
  curve(g,eDistances,eLick,xE,yE,ORANGE,2.4,'lick-response-line');

  const xR=i=>489+i*63;
  const yR=v=>1140-v*1725;
  seg(g,455.4,881,455.4,1140,DARK,1.2,'y-axis-e-right');
  seg(g,455,1140,583.6,1140,DARK,1.4,'x-axis-e-right');
  eRYTicks.forEach((v,i)=>{
    seg(g,455.4,yR(v),458.4,yR(v),DARK,1,'y-tick-e-right');
    label(g,447,yR(v)+(v===.15?-2:v===0?-2:5),eRYLabels[i],18.3,'end','#222','y-tick-label-e-right');
  });
  [0,1].forEach(i=>{
    seg(g,xR(i),1140,xR(i),1137,DARK,1,'x-tick-e-right');
    errbar(g,xR(i),yR(eRWhiskerHi[i]),yR(eRWhiskerLo[i]),'#3f5aa9',2,3,'septa-whisker-error-'+i);
  });
  curve(g,[0,1],eRWhisker,xR,yR,BLUE,2,'barrel-septa-whisker');
  [0,1].forEach(i=>{
    errbar(g,xR(i),yR(eRLickHi[i]),yR(eRLickLo[i]),ORANGE,2.2,3,'septa-lick-error-'+i);
  });
  curve(g,[0,1],eRLick,xR,yR,ORANGE,2.6,'barrel-septa-lick');
})();

/* ---------- Panel F ---------- */
(function(){
  const g=document.getElementById('f-marks');
  const xF=s=>669+s*250.5;
  const yF=p=>1133-p*263;
  seg(g,669,870,669,1133,DARK,1.3,'y-axis-f');
  seg(g,669,1133,919.5,1133,DARK,1.3,'x-axis-f');
  fYTicks.forEach((v,i)=>{
    seg(g,669,yF(v),672,yF(v),DARK,1,'y-tick-f');
    label(g,660,yF(v)+2.5,fYLabels[i],17.5,'end','#222','y-tick-label-f');
  });
  fXTicks.forEach((v,i)=>{
    seg(g,xF(v),1133,xF(v),1130,DARK,1,'x-tick-f');
    label(g,xF(v)-1,1153,fXLabels[i],17.5,'middle','#222','x-tick-label-f');
  });
  curve(g,fSharpness,fBoth,xF,yF,TAN,1.6,'cdf-whisker-lick');
  curve(g,fSharpness,fWhiskerOnly,xF,yF,BLUE,1.5,'cdf-whisker-only');
})();

/* ---------- Panel G ---------- */
(function(){
  const g=document.getElementById('g-marks');
  const xG=t=>1130.5+t/2.085;
  const yG=v=>1095-v/3;
  const yL=v=>1100-v/3;
  seg(g,1130.5,961,1130.5,1133,'#111',1.3,'onset-line-g','7 5');
  function tube(vals,sem,color,name,dashed){
    band(g,gFrames,plus(vals,sem),minus(vals,sem),xG,yG,color,name+'-sem');
    const innerU=plus(vals,sem.map(s=>s*.72));
    const innerL=minus(vals,sem.map(s=>s*.72));
    const a=dashed?{'stroke-dasharray':'4 3'}:{};
    const pale=dashed?'#f0f0f0':'#d9d9d9';
    curve(g,gFrames,innerU,xG,yG,pale,dashed?1:.6,name+'-upper',a);
    curve(g,gFrames,innerL,xG,yG,pale,dashed?1:.6,name+'-lower',a);
  }
  tube(gNoBotoxNo,gNoBotoxNoSem,'#8c8d90','no-botox-no-lick',true);
  tube(gBotoxNo,gBotoxNoSem,ORANGE,'botox-no-lick',true);
  tube(gNoBotoxIti,gNoBotoxItiSem,'#8c8d90','no-botox-iti');
  tube(gBotoxIti,gBotoxItiSem,ORANGE,'botox-iti');
  seg(g,1130.5,1095,1309,1095,'#111',1.3,'baseline-g','6 4');
  curve(g,gLickFrames,gLickRate,xG,yL,'#77787b',1.1,'lick-rate-g');
})();

/* ---------- Panel H ---------- */
(function(){
  const g=document.getElementById('h-marks');
  const onsets=[248,466,674];
  const rows=[[1268,1346],[1379,1456],[1482,1560],[1593,1677],[1702,1852]];
  rows.forEach((r,ri)=>{
    onsets.forEach((x,ci)=>{
      seg(g,x,r[0],x,r[1],'#111',1.2,'onset-line-row-'+ri+'-col-'+ci,'6 3.5');
    });
  });
  const X=c=>t=>onsets[c]+t/1.845;
  const Y=base=>v=>1200+(base-v)/3;
  const Z=base=>v=>1590+(base-v)/3;
  curve(g,hWhiskLickT,hWhiskLickV,X(0),Y(400),PURPLE,1.7,'whisker-motion-lick');
  curve(g,hWhiskWhiskT,hWhiskWhiskV,X(1),Y(400),PURPLE,1.7,'whisker-motion-whisk');
  curve(g,hWhiskBodyT,hWhiskBodyV,X(2),Y(400),PURPLE,3.4,'whisker-motion-body');
  curve(g,hBodyLickT,hBodyLickV,X(0),Y(720),BROWN,3,'body-motion-lick');
  curve(g,hBodyWhiskT,hBodyWhiskV,X(1),Y(720),BROWN,3,'body-motion-whisk');
  curve(g,hBodyBodyT,hBodyBodyV,X(2),Y(720),BROWN,3,'body-motion-body');
  function pupil(ts,vs,c,sem,fill,name){
    const yf=Y(1100);
    const hi=vs.map(v=>v+sem),lo=vs.map(v=>v-sem);
    band(g,ts,hi,lo,X(c),yf,fill,name+'-sem');
    curve(g,ts,hi,X(c),yf,TEAL,1.1,name+'-upper');
    curve(g,ts,lo,X(c),yf,TEAL,1.1,name+'-lower');
    curve(g,ts,vs,X(c),yf,TEAL,1.5,name+'-mean');
  }
  pupil(hPupilLickT,hPupilLickV,0,9,'#d5ece7','pupil-lick');
  pupil(hPupilWhiskT,hPupilWhiskV,1,10,'#d5ece7','pupil-whisk');
  pupil(hPupilBodyT,hPupilBodyV,2,22,'#cfe6ee','pupil-body');
  const dashR=[[175,355],[393,572],[600.5,780.5]];
  dashR.forEach((d,i)=>{
    seg(g,d[0],1666.7,d[1],1666.7,'#111',1.3,'lick-rate-baseline-'+i,'6 3');
  });
  curve(g,hLickRateT,hLickRateV,X(0),Z(230),GRAY,1.2,'lick-rate-h');
  function vip(ts,vs,hi,lo,no,c,color,pale,name){
    const yf=Z(710);
    curve(g,ts,no,X(c),yf,color,4.6,name+'-none-band');
    curve(g,ts,no,X(c),yf,'#fff',1.1,name+'-none-mean',{'stroke-dasharray':'3 3','stroke-opacity':.8});
    band(g,ts,hi,lo,X(c),yf,pale,name+'-sem');
    curve(g,ts,hi,X(c),yf,color,1.3,name+'-upper');
    curve(g,ts,lo,X(c),yf,color,1.3,name+'-lower');
    curve(g,ts,vs,X(c),yf,color,3,name+'-mean');
  }
  vip(hVipLickT,hVipLick,plus(hVipLick,hVipLickSem),minus(hVipLick,hVipLickSem),hVipNoLick,0,ORANGE,'#fdeccd','vip-lick');
  vip(hVipWhiskT,hVipWhisk,plus(hVipWhisk,hVipWhiskSem),minus(hVipWhisk,hVipWhiskSem),hVipNoWhisk,1,PURPLE,'#e3def1','vip-whisk');
  vip(hVipBodyT,hVipBody,hVipBodyHi,hVipBodyLo,hVipNoBody,2,BROWN,'#eeddd4','vip-body');
  const vx=[[206,375.6],[424,593.5],[632.5,801]];
  vx.forEach((d,i)=>{
    seg(g,d[0],1826.7,d[1],1826.7,'#111',1.3,'vip-baseline-'+i,'6 3');
  });
})();

/* ---------- Panel I ---------- */
(function(){
  const g=document.getElementById('i-marks');
  const yI=v=>1561-v*2830;
  const colors=[ORANGE,PURPLE,BROWN];
  function plot(axisX,right,xf,labelRight,ticks,tickNames,labelColor,xvals,labelX,nm){
    seg(g,axisX,1278,axisX,1561,DARK,1.3,nm+'-y-axis');
    seg(g,axisX,1561,right,1561,DARK,1.3,nm+'-x-axis');
    iYTicks.forEach((v,i)=>{
      seg(g,axisX,yI(v),axisX+3,yI(v),DARK,1,nm+'-y-tick');
      label(g,labelRight,yI(v)+(v===0?2:4),iYLabels[i],18,'end','#111',nm+'-y-tick-label');
    });
    ticks.forEach(t=>{
      seg(g,xf(t),1561,xf(t),1558,DARK,1,nm+'-x-tick');
    });
    tickNames.forEach((s,i)=>{
      label(g,labelX[i],1581,s,18,'middle',labelColor,nm+'-x-tick-label');
    });
    xvals.forEach((x,i)=>{
      const px=xf(x),hi=yI(iVip[i]+iVipErr[i]),lo=yI(iVip[i]-iVipErr[i]);
      if(i===0){
        seg(g,px,hi,px,lo,colors[0],5.5,nm+'-lick-point');
      }else{
        errbar(g,px,hi,lo,colors[i],1.8,2.5,nm+'-point-error-'+i);
        add(g,'rect',{x:px-3,y:yI(iVip[i])-3,width:6,height:6,fill:colors[i]},nm+'-point-'+i);
      }
    });
  }
  const xWh=d=>956+(d-.4)*157.5;
  const xBo=d=>1189.3+(d-1.8)*128.3;
  plot(940.7,1055,xWh,935,iWhiskerTicks,iWhiskerLabels,PURPLE,iWhiskerPos,[960,991,1022.7],'whisker-scatter');
  plot(1162.7,1272.7,xBo,1156,iBodyTicks,iBodyLabels,BROWN,iBodyPos,[1186.7,1215,1240,1271.7],'body-scatter');
})();

/* ---------- Panel J ---------- */
(function(){
  const g=document.getElementById('j-marks');
  const yJ=v=>1865-v*3313;
  const xs=[1037.7,1111.7,1188.7];
  const fills=['#f0a51e','#5b42a0','#a04a1e'];
  const rad=[7,8,7];
  seg(g,988.3,1699.3,988.3,1865,DARK,1.4,'y-axis-j');
  seg(g,988,1865,1232.7,1865,DARK,1.4,'x-axis-j');
  jYTicks.forEach((v,i)=>{
    seg(g,988.3,yJ(v),991.5,yJ(v),DARK,1,'y-tick-j');
    label(g,981.7,yJ(v)+6,jYLabels[i],17.5,'end','#107f68','y-tick-label-j');
  });
  jCategories.forEach((c,i)=>{
    seg(g,xs[i],1865,xs[i],1862,DARK,1,'x-tick-j');
    add(g,'circle',{cx:xs[i],cy:yJ(jPupil[i]),r:rad[i],fill:fills[i],stroke:'#111','stroke-width':1.3},'point-'+c.toLowerCase().replace(' ','-'));
    errbar(g,xs[i],yJ(jPupil[i]+jPupilErr[i]),yJ(jPupil[i]-jPupilErr[i]),'#111',1.2,3,'error-'+c.toLowerCase().replace(' ','-'));
  });
})();
</script>
</body>
</html>
